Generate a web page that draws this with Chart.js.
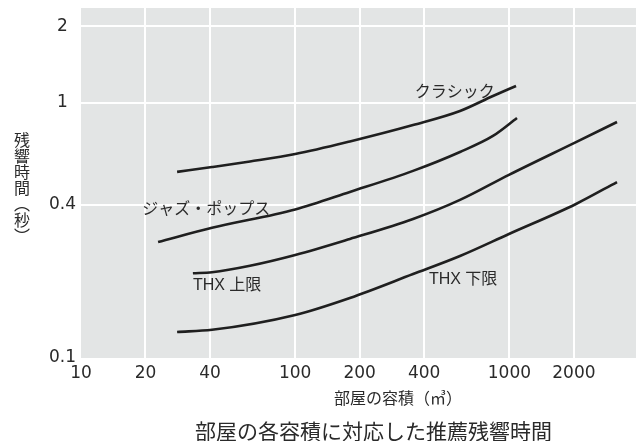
<!DOCTYPE html>
<html>
<head>
<meta charset="utf-8">
<script src="https://cdn.jsdelivr.net/npm/chart.js@4"></script>
<style>
html,body{margin:0;padding:0;background:#fff;}
#wrap{position:relative;width:636px;height:441px;overflow:hidden;}
#c{position:absolute;left:0;top:0;}
.t{position:absolute;font-family:"Noto Sans CJK JP",sans-serif;color:#2a2a2a;line-height:1;white-space:nowrap;}
#ytitle{left:14px;top:132px;font-size:16px;writing-mode:vertical-rl;}
#xtitle{left:334px;top:389px;font-size:16px;}
#caption{left:195px;top:420px;font-size:21px;}
</style>
</head>
<body>
<div id="wrap">
<canvas id="c" width="636" height="441"></canvas>
<div class="t" id="ytitle">残響時間（秒）</div>
<div class="t" id="xtitle">部屋の容積（㎥）</div>
<div class="t" id="caption">部屋の各容積に対応した推薦残響時間</div>
</div>
<script>
// ---- data (room volume m³ -> reverberation time s) ----
const classicX = [28.1, 40.9, 61.5, 100, 180, 355, 588, 838, 1074];
const classicY = [0.537, 0.561, 0.590, 0.631, 0.707, 0.820, 0.931, 1.066, 1.167];
const jazzX = [22.9, 40.9, 100, 180, 355, 588, 838, 1085];
const jazzY = [0.285, 0.324, 0.3825, 0.448, 0.542, 0.643, 0.743, 0.874];
const thxUpperX = [33.3, 40.9, 61.5, 100, 180, 355, 588, 995, 2046, 3180];
const thxUpperY = [0.215, 0.217, 0.230, 0.2535, 0.293, 0.351, 0.417, 0.523, 0.703, 0.843];
const thxLowerX = [28.1, 40.9, 100, 180, 355, 588, 995, 2046, 3180];
const thxLowerY = [0.1265, 0.129, 0.1475, 0.172, 0.2135, 0.2513, 0.3065, 0.402, 0.490];

const seriesNames = ['クラシック', 'ジャズ・ポップス', 'THX 上限', 'THX 下限'];
const xTicks = [10, 20, 40, 100, 200, 400, 1000, 2000];
const yTicks = [0.1, 0.4, 1, 2];

// label anchor (data coordinates) for each curve name
const labelX = [362, 19.3, 33.3, 421];
const labelY = [1.095, 0.381, 0.1916, 0.2023];

const pts = (xs, ys) => xs.map((x, i) => ({x: x, y: ys[i]}));
const seriesData = [pts(classicX, classicY), pts(jazzX, jazzY), pts(thxUpperX, thxUpperY), pts(thxLowerX, thxLowerY)];

const tickFont = {family: '"DejaVu Sans", sans-serif', size: 17};
const textColor = '#2a2a2a';

const bgPlugin = {
  id: 'bg',
  beforeDraw(chart) {
    const a = chart.chartArea, ctx = chart.ctx;
    ctx.save();
    ctx.fillStyle = '#e3e5e5';
    ctx.fillRect(a.left, a.top, a.right - a.left, a.bottom - a.top);
    ctx.restore();
  }
};

const labelPlugin = {
  id: 'curveLabels',
  afterDatasetsDraw(chart) {
    const ctx = chart.ctx, sx = chart.scales.x, sy = chart.scales.y;
    ctx.save();
    ctx.font = '16px "Liberation Sans", "Noto Sans CJK JP", sans-serif';
    ctx.fillStyle = textColor;
    ctx.textAlign = 'left';
    ctx.textBaseline = 'middle';
    seriesNames.forEach((n, i) => {
      ctx.fillText(n, sx.getPixelForValue(labelX[i]), sy.getPixelForValue(labelY[i]));
    });
    ctx.restore();
  }
};

new Chart(document.getElementById('c'), {
  type: 'line',
  data: {
    datasets: seriesData.map((d, i) => ({
      label: seriesNames[i],
      data: d,
      borderColor: '#1f1f1f',
      borderWidth: 2.6,
      pointRadius: 0,
      fill: false,
      cubicInterpolationMode: 'monotone'
    }))
  },
  options: {
    responsive: false,
    animation: false,
    layout: {padding: {top: 8, left: 0, right: 0, bottom: 0}},
    plugins: {legend: {display: false}, tooltip: {enabled: false}, title: {display: false}},
    scales: {
      x: {
        type: 'logarithmic',
        min: 10,
        max: 3900,
        afterBuildTicks: s => { s.ticks = xTicks.map(v => ({value: v})); },
        afterFit: s => { s.height = 83; s.paddingLeft = 0; s.paddingRight = 0; },
        ticks: {
          autoSkip: false, maxRotation: 0, padding: 5,
          font: tickFont, color: textColor,
          callback: v => String(v)
        },
        grid: {
          drawTicks: false,
          lineWidth: 2,
          color: c => (c.tick && c.tick.value === 10) ? 'rgba(0,0,0,0)' : '#ffffff'
        },
        border: {display: false}
      },
      y: {
        type: 'logarithmic',
        min: 0.1,
        max: 2.36,
        afterBuildTicks: s => { s.ticks = yTicks.map(v => ({value: v})); },
        afterFit: s => { s.width = 81; s.paddingTop = 0; s.paddingBottom = 0; },
        ticks: {
          autoSkip: false, padding: 5, crossAlign: 'center',
          font: tickFont, color: textColor,
          callback: v => String(v)
        },
        grid: {
          drawTicks: false,
          lineWidth: 2,
          color: c => (c.tick && c.tick.value === 0.1) ? 'rgba(0,0,0,0)' : '#ffffff'
        },
        border: {display: false}
      }
    }
  },
  plugins: [bgPlugin, labelPlugin]
});
</script>
</body>
</html>
